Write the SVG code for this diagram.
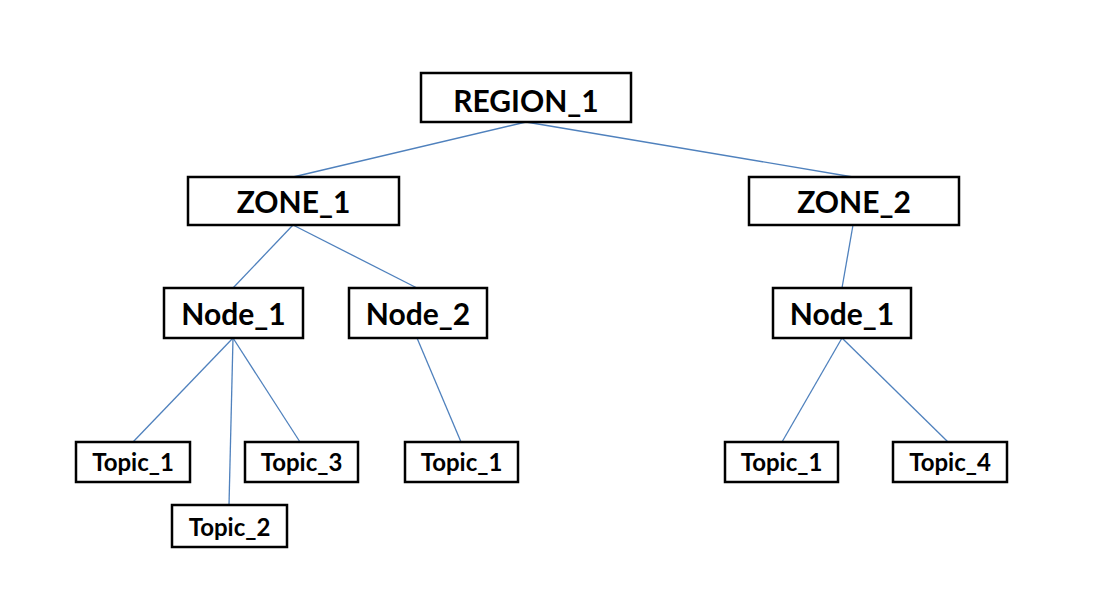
<svg xmlns="http://www.w3.org/2000/svg" width="1115" height="599" viewBox="0 0 1115 599">
<style>
.box{fill:#fff;stroke:#000;stroke-width:2.5}
.big{font-family:Lato,"Open Sans",sans-serif;font-weight:bold;font-size:30px;fill:#000;text-anchor:middle}
.small{font-family:Lato,"Open Sans",sans-serif;font-weight:bold;font-size:24px;fill:#000;text-anchor:middle}
.conn line{stroke:#4f81bd;stroke-width:1.3}
</style>
<rect width="1115" height="599" fill="#fff"/>
<g class="conn" id="connectors">
<line x1="526" y1="122" x2="293" y2="177"/>
<line x1="526" y1="122" x2="853" y2="177"/>
<line x1="293" y1="225" x2="233" y2="288"/>
<line x1="293" y1="225" x2="417" y2="288"/>
<line x1="853" y1="225" x2="842" y2="288"/>
<line x1="233" y1="338" x2="133" y2="442"/>
<line x1="233" y1="338" x2="229" y2="505"/>
<line x1="233" y1="338" x2="300" y2="442"/>
<line x1="417" y1="338" x2="461" y2="442"/>
<line x1="842" y1="338" x2="782" y2="442"/>
<line x1="842" y1="338" x2="948" y2="442"/>
</g>
<g id="region1"><rect class="box" x="421" y="73" width="210" height="49"/><text class="big" x="526" y="112">REGION_1</text></g>
<g id="zone1"><rect class="box" x="188" y="177" width="211" height="48"/><text class="big" x="293.5" y="213">ZONE_1</text></g>
<g id="zone2"><rect class="box" x="749" y="177" width="210" height="48"/><text class="big" x="854" y="213">ZONE_2</text></g>
<g id="z1node1"><rect class="box" x="164" y="288" width="139" height="50"/><text class="big" x="233.5" y="325">Node_1</text></g>
<g id="z1node2"><rect class="box" x="349" y="288" width="138" height="50"/><text class="big" x="418" y="325">Node_2</text></g>
<g id="z2node1"><rect class="box" x="773" y="288" width="138" height="50"/><text class="big" x="842" y="325">Node_1</text></g>
<g id="n1topic1"><rect class="box" x="76" y="442" width="114" height="40"/><text class="small" x="133" y="471">Topic_1</text></g>
<g id="n1topic2"><rect class="box" x="172" y="505" width="115" height="42"/><text class="small" x="229.5" y="536">Topic_2</text></g>
<g id="n1topic3"><rect class="box" x="245" y="442" width="113" height="40"/><text class="small" x="301.5" y="471">Topic_3</text></g>
<g id="n2topic1"><rect class="box" x="405" y="442" width="113" height="40"/><text class="small" x="461.5" y="471">Topic_1</text></g>
<g id="z2topic1"><rect class="box" x="725" y="442" width="113" height="40"/><text class="small" x="781.5" y="471">Topic_1</text></g>
<g id="z2topic4"><rect class="box" x="893" y="442" width="114" height="40"/><text class="small" x="950" y="471">Topic_4</text></g>
</svg>
